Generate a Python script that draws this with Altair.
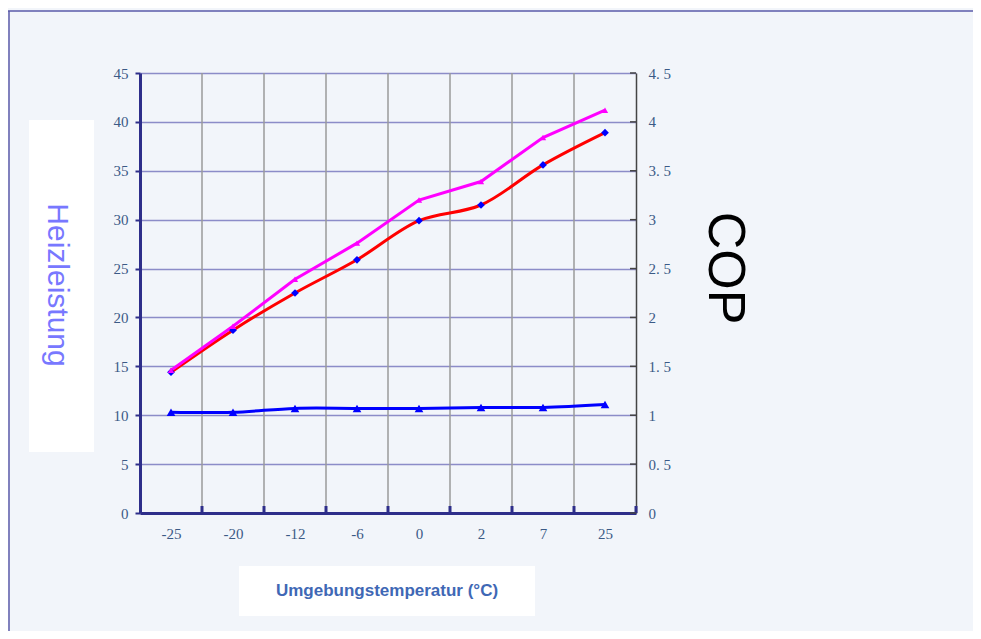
import altair as alt
import pandas as pd

# ---- data ----
temps = ["-25", "-20", "-12", "-6", "0", "2", "7", "25"]
heiz_red = [14.4, 18.7, 22.5, 25.9, 29.9, 31.5, 35.6, 38.9]
heiz_pink = [14.6, 19.1, 23.9, 27.6, 32.0, 33.9, 38.4, 41.2]
cop = [1.03, 1.03, 1.07, 1.07, 1.07, 1.08, 1.08, 1.11]
heiz_ticks = [0, 5, 10, 15, 20, 25, 30, 35, 40, 45]
cop_ticks = [0, 0.5, 1, 1.5, 2, 2.5, 3, 3.5, 4, 4.5]

idx = list(range(len(temps)))
df = pd.DataFrame({"idx": idx, "temp": temps, "red": heiz_red,
                   "pink": heiz_pink, "cop": cop})
bounds = pd.DataFrame({"b": [i + 0.5 for i in idx]})
grid_b = bounds[bounds["b"] < len(temps) - 1]
tick_df = pd.DataFrame({"v": heiz_ticks})

W, H = 496, 440
NAVY = "#2e2e8a"
LBL = "#3b5a86"
SERIF = "Liberation Serif"

x_scale = alt.Scale(domain=[-0.5, len(temps) - 0.5], nice=False, zero=False)
label_expr = "[" + ",".join(f"'{t}'" for t in temps) + "][datum.value]"
x_axis = alt.Axis(values=idx, labelExpr=label_expr, ticks=False, grid=False,
                  domainColor=NAVY, domainWidth=3, labelFont=SERIF,
                  labelFontSize=15, labelColor=LBL, labelPadding=13, title=None)

y_scale = alt.Scale(domain=[0, 45], nice=False, zero=True)
y_axis = alt.Axis(values=heiz_ticks, grid=True, gridColor="#8c8cc8",
                  gridWidth=1.5, domainColor=NAVY, domainWidth=3,
                  tickColor=NAVY, tickWidth=2, tickSize=5, labelPadding=7,
                  labelFont=SERIF, labelFontSize=15, labelColor=LBL, title=None)


def X(field):
    return alt.X(field, scale=x_scale, axis=x_axis)


def Y(field):
    return alt.Y(field, scale=y_scale, axis=y_axis)


base = alt.Chart(df)

red_line = base.mark_line(color="#ff0000", strokeWidth=3,
                          interpolate="catmull-rom").encode(
    x=X("idx:Q"), y=Y("red:Q"))
red_pts = base.mark_point(shape="diamond", filled=True, color="#0000ff",
                          size=60, opacity=1).encode(
    x=X("idx:Q"), y=Y("red:Q"))
pink_line = base.mark_line(color="#ff00ff", strokeWidth=3).encode(
    x=X("idx:Q"), y=Y("pink:Q"))
pink_pts = base.mark_point(shape="triangle-up", filled=True, color="#ff00ff",
                           size=40, opacity=1).encode(
    x=X("idx:Q"), y=Y("pink:Q"))

vgrid = alt.Chart(grid_b).mark_rule(color="#9a9a9a", strokeWidth=1.5).encode(
    x=X("b:Q"))
btick = alt.Chart(bounds).mark_rule(color=NAVY, strokeWidth=3).encode(
    x=X("b:Q"), y=alt.value(H), y2=alt.value(H - 7))
rtick = alt.Chart(tick_df).mark_rule(color="#444444", strokeWidth=1.5).encode(
    y=Y("v:Q"), x=alt.value(W - 6), x2=alt.value(W))

left = alt.layer(vgrid, btick, rtick, red_line, pink_line, red_pts, pink_pts)

cop_scale = alt.Scale(domain=[0, 4.5], nice=False, zero=True)
cop_axis = alt.Axis(orient="right", values=cop_ticks,
                    labelExpr="replace(toString(datum.value), '.', '. ')",
                    grid=False, ticks=False, domainColor="#444444",
                    domainWidth=1.5, labelPadding=12, labelFont=SERIF,
                    labelFontSize=15, labelColor=LBL, title=None)
blue_line = base.mark_line(color="#0000ff", strokeWidth=3,
                           interpolate="catmull-rom").encode(
    x=X("idx:Q"), y=alt.Y("cop:Q", scale=cop_scale, axis=cop_axis))
blue_pts = base.mark_point(shape="triangle-up", filled=True, color="#0000ff",
                           size=75, opacity=1).encode(
    x=X("idx:Q"), y=alt.Y("cop:Q", scale=cop_scale, axis=cop_axis))
right = alt.layer(blue_line, blue_pts)

one = alt.Chart(pd.DataFrame({"a": [0]}))
box_left = one.mark_rect(color="white").encode(
    x=alt.value(-111), x2=alt.value(-46), y=alt.value(47), y2=alt.value(379))
txt_left = one.mark_text(text="Heizleistung", angle=90, font="Liberation Sans",
                         fontSize=30, color="#7878ff", align="center",
                         baseline="middle").encode(
    x=alt.value(-83), y=alt.value(212))
txt_cop = one.mark_text(text="COP", angle=90, font="Liberation Sans",
                        fontSize=52, color="#000000", align="center",
                        baseline="middle").encode(
    x=alt.value(585), y=alt.value(195))
box_x = one.mark_rect(color="white").encode(
    x=alt.value(99), x2=alt.value(395), y=alt.value(493), y2=alt.value(543))
txt_x = one.mark_text(text="Umgebungstemperatur (°C)", font="Liberation Sans",
                      fontSize=17, fontWeight="bold", color="#3f68b5",
                      align="center", baseline="middle").encode(
    x=alt.value(247), y=alt.value(518))
frame_top = one.mark_rule(color="#5a5aa8", strokeWidth=1.5).encode(
    x=alt.value(-132), x2=alt.value(833), y=alt.value(-62))
frame_left = one.mark_rule(color="#5a5aa8", strokeWidth=1.5).encode(
    x=alt.value(-131), y=alt.value(-62), y2=alt.value(570))

chart = alt.layer(
    left, right, box_left, txt_left, txt_cop, box_x, txt_x, frame_top, frame_left
).resolve_scale(y="independent").properties(
    width=W, height=H,
    autosize=alt.AutoSizeParams(type="none"),
    padding={"left": 132, "top": 65, "right": 337, "bottom": 118},
    background="#f2f5fa",
).configure_view(stroke=None)

chart.save("out.html", embed_options={"renderer": "svg", "actions": False})
